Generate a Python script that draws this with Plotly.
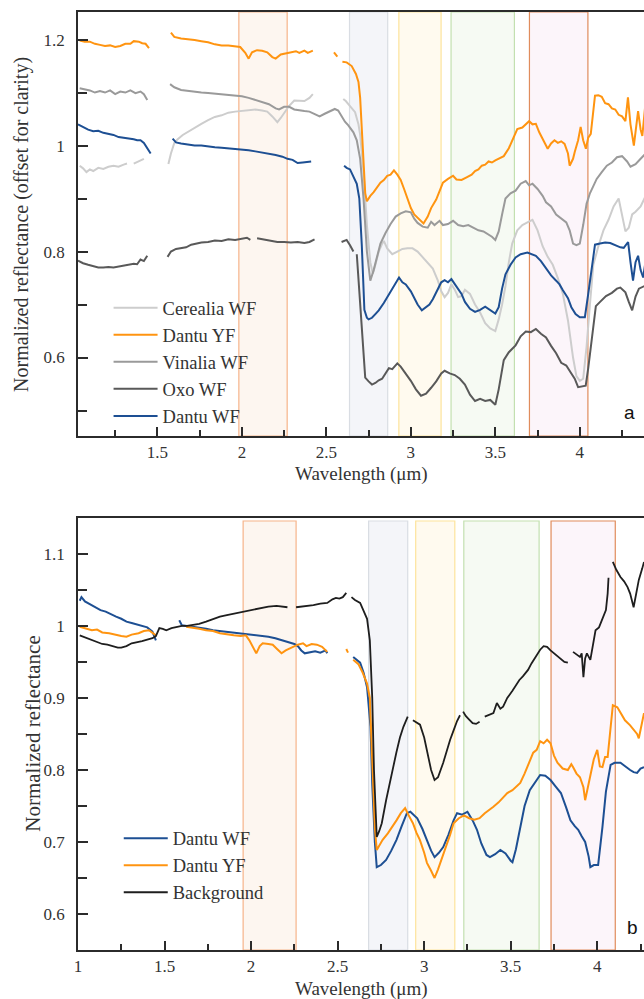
import plotly.graph_objects as go

N = None
# ---------------- Panel a (top) ----------------
cerealia_x = [1.04,1.06,1.08,1.10,1.12,1.15,1.18,1.21,1.24,1.27,1.30,1.32,N,1.36,1.39,1.42,N,
              1.565,1.58,1.60,1.62,1.65,1.68,1.72,1.76,1.80,1.84,1.88,1.92,1.96,2.00,2.04,2.08,2.12,2.15,2.18,2.21,2.23,2.25,2.28,2.31,2.34,2.37,2.40,2.42,N,
              2.60,2.615,2.63,2.65,2.67,2.69,2.70,2.72,2.74,2.76,2.775,2.79,2.81,2.83,2.84,2.86,2.89,2.92,2.95,2.98,3.01,3.04,3.07,3.10,3.13,3.16,3.18,3.20,3.22,3.24,3.26,3.28,3.30,3.32,3.35,3.38,3.41,3.44,3.47,3.50,3.52,3.54,3.56,3.58,3.60,3.63,3.66,3.69,3.72,3.75,3.78,3.81,3.84,3.87,3.90,3.93,3.96,3.98,4.00,4.02,4.04,4.06,4.08,4.11,4.14,4.17,4.20,4.23,4.25,4.27,4.29,4.31,4.33,4.36,4.39]
cerealia_y = [0.962,0.957,0.950,0.955,0.952,0.958,0.956,0.960,0.962,0.960,0.964,0.966,N,0.966,0.970,0.975,N,
              0.965,0.985,1.005,1.012,1.020,1.026,1.034,1.041,1.048,1.054,1.057,1.062,1.064,1.065,1.066,1.068,1.066,1.064,1.055,1.044,1.052,1.062,1.075,1.085,1.084,1.084,1.090,1.097,N,
              1.088,1.084,1.078,1.070,1.063,1.040,1.020,0.950,0.850,0.780,0.758,0.775,0.800,0.815,0.820,0.806,0.795,0.800,0.805,0.806,0.806,0.800,0.790,0.780,0.768,0.745,0.725,0.714,0.722,0.738,0.728,0.714,0.716,0.728,0.720,0.700,0.685,0.665,0.655,0.650,0.672,0.700,0.735,0.780,0.815,0.840,0.850,0.855,0.860,0.840,0.810,0.790,0.775,0.750,0.720,0.670,0.600,0.565,0.556,0.560,0.620,0.700,0.775,0.810,0.840,0.860,0.885,0.900,0.870,0.838,0.845,0.870,0.875,0.885,0.905]

dantu_yf_x = [1.04,1.07,1.10,1.13,1.16,1.19,1.22,1.25,1.28,1.31,1.34,1.36,1.39,1.41,1.43,1.45,N,
              1.58,1.60,1.64,1.68,1.72,1.76,1.80,1.84,1.88,1.92,1.96,1.99,2.02,2.04,2.06,2.09,2.12,2.15,2.18,2.20,2.23,2.26,2.29,2.32,2.34,2.37,2.39,2.42,N,
              2.545,2.565,N,
              2.595,2.62,2.65,2.675,2.69,2.70,2.71,2.72,2.73,2.74,2.76,2.78,2.80,2.82,2.84,2.86,2.88,2.90,2.92,2.94,2.96,2.98,3.00,3.02,3.05,3.075,3.10,3.12,3.15,3.17,3.19,3.22,3.25,3.27,3.30,3.33,3.36,3.38,3.40,3.42,3.44,3.46,3.48,3.50,3.52,3.55,3.58,3.61,3.63,3.66,3.68,3.70,3.72,3.74,3.76,3.78,3.80,3.81,3.83,3.85,3.87,3.89,3.91,3.93,3.94,3.96,3.97,3.99,4.005,4.02,4.036,4.05,4.065,4.08,4.09,4.11,4.13,4.15,4.17,4.19,4.21,4.23,4.25,4.27,4.285,4.30,4.32,4.345,4.36,4.37,4.39]
dantu_yf_y = [1.198,1.196,1.196,1.192,1.190,1.188,1.189,1.186,1.188,1.192,1.192,1.197,1.196,1.193,1.192,1.184,N,
              1.213,1.205,1.202,1.201,1.199,1.197,1.195,1.191,1.189,1.189,1.188,1.186,1.175,1.164,1.176,1.180,1.179,1.176,1.167,1.164,1.172,1.174,1.176,1.178,1.175,1.179,1.175,1.179,N,
              1.176,1.168,N,
              1.158,1.157,1.150,1.135,1.120,1.090,1.030,0.960,0.910,0.895,0.905,0.912,0.920,0.930,0.935,0.943,0.945,0.953,0.945,0.935,0.918,0.900,0.882,0.870,0.860,0.853,0.866,0.882,0.898,0.915,0.930,0.937,0.943,0.936,0.935,0.940,0.945,0.952,0.955,0.962,0.964,0.970,0.968,0.972,0.975,0.980,0.995,1.015,1.031,1.034,1.040,1.046,1.040,1.041,1.025,1.013,1.000,0.994,1.004,1.010,1.005,1.008,1.003,0.985,0.962,0.975,0.988,1.010,1.035,1.010,0.994,1.015,1.022,1.060,1.094,1.095,1.092,1.080,1.078,1.070,1.068,1.058,1.055,1.046,1.091,1.040,1.000,1.065,1.030,1.018,1.084]

vinalia_x = [1.04,1.07,1.10,1.13,1.16,1.19,1.22,1.25,1.28,1.31,1.34,1.37,1.40,1.42,1.44,N,
             1.575,1.60,1.64,1.68,1.72,1.76,1.80,1.84,1.88,1.92,1.96,2.00,2.04,2.08,2.12,2.16,2.20,2.22,2.25,2.28,2.31,2.34,2.37,2.40,2.43,2.46,2.49,2.52,2.55,2.57,2.59,2.61,2.63,2.66,2.68,2.70,2.72,2.74,2.76,2.78,2.80,2.82,2.85,2.88,2.91,2.94,2.97,3.00,3.02,3.04,3.07,3.10,3.12,3.14,3.17,3.19,3.22,3.25,3.28,3.31,3.34,3.37,3.40,3.43,3.46,3.48,3.50,3.52,3.54,3.56,3.59,3.62,3.65,3.68,3.70,3.72,3.75,3.78,3.80,3.83,3.86,3.89,3.92,3.94,3.96,3.98,4.00,4.02,4.04,4.06,4.08,4.10,4.13,4.16,4.19,4.22,4.25,4.28,4.30,4.33,4.36,4.39]
vinalia_y = [1.108,1.106,1.104,1.100,1.103,1.100,1.104,1.097,1.102,1.100,1.104,1.099,1.102,1.097,1.086,N,
             1.116,1.110,1.105,1.103,1.102,1.100,1.099,1.098,1.096,1.095,1.094,1.093,1.090,1.086,1.082,1.078,1.070,1.068,1.073,1.073,1.068,1.066,1.065,1.064,1.060,1.055,1.060,1.065,1.069,1.066,1.056,1.045,1.038,1.025,1.010,0.975,0.900,0.800,0.745,0.765,0.790,0.815,0.835,0.852,0.866,0.872,0.876,0.874,0.862,0.854,0.847,0.845,0.856,0.850,0.858,0.850,0.852,0.858,0.850,0.848,0.850,0.845,0.840,0.838,0.832,0.828,0.822,0.838,0.870,0.900,0.910,0.915,0.928,0.933,0.925,0.928,0.918,0.905,0.893,0.885,0.870,0.862,0.855,0.840,0.815,0.812,0.815,0.850,0.890,0.910,0.925,0.937,0.950,0.962,0.968,0.978,0.980,0.970,0.960,0.965,0.975,0.985]

oxo_x = [1.03,1.06,1.09,1.12,1.15,1.18,1.21,1.24,1.27,1.30,1.33,1.36,1.38,1.40,1.42,1.44,N,
         1.56,1.58,1.61,1.64,1.67,1.70,1.73,1.76,1.80,1.84,1.88,1.92,1.96,2.00,2.03,2.05,N,
         2.09,2.12,2.15,2.18,2.21,2.25,2.29,2.33,2.37,2.40,2.43,N,
         2.59,2.62,2.64,2.66,N,
         2.68,2.69,2.70,2.71,2.72,2.73,2.75,2.77,2.79,2.81,2.83,2.85,2.87,2.89,2.92,2.94,2.96,2.98,3.00,3.03,3.06,3.09,3.12,3.15,3.18,3.20,3.23,3.26,3.29,3.32,3.35,3.38,3.41,3.44,3.47,3.50,3.52,3.55,3.58,3.62,3.65,3.68,3.71,3.74,3.77,3.80,3.83,3.86,3.89,3.92,3.95,3.97,3.99,4.01,4.035,4.05,4.065,4.08,4.095,4.12,4.155,4.19,4.22,4.24,4.27,4.29,4.31,4.33,4.35,4.39]
oxo_y = [0.783,0.778,0.775,0.772,0.770,0.770,0.771,0.770,0.772,0.773,0.775,0.777,0.776,0.785,0.782,0.792,N,
         0.790,0.800,0.805,0.806,0.808,0.813,0.815,0.817,0.818,0.821,0.820,0.823,0.822,0.824,0.826,0.822,N,
         0.825,0.823,0.822,0.820,0.818,0.818,0.817,0.818,0.816,0.818,0.823,N,
         0.818,0.822,0.812,0.800,N,
         0.795,0.750,0.700,0.655,0.600,0.562,0.555,0.549,0.552,0.557,0.560,0.570,0.580,0.578,0.589,0.583,0.575,0.565,0.556,0.540,0.528,0.532,0.543,0.555,0.570,0.575,0.570,0.567,0.560,0.549,0.530,0.518,0.522,0.518,0.520,0.511,0.540,0.595,0.610,0.623,0.640,0.649,0.648,0.654,0.645,0.638,0.622,0.608,0.590,0.585,0.570,0.560,0.544,0.545,0.547,0.580,0.623,0.665,0.697,0.705,0.716,0.722,0.730,0.732,0.723,0.705,0.689,0.715,0.730,0.736]

dantu_wf_x = [1.03,1.06,1.09,1.12,1.15,1.18,1.21,1.24,1.27,1.30,1.33,1.36,1.38,1.40,1.42,1.44,1.46,N,
              1.59,1.61,1.64,1.68,1.72,1.76,1.80,1.84,1.88,1.92,1.96,2.00,2.04,2.08,2.12,2.16,2.20,2.24,2.27,2.30,2.33,2.36,2.39,2.41,N,
              2.605,2.62,2.64,2.66,2.68,2.695,2.71,2.725,2.74,2.75,2.77,2.79,2.81,2.84,2.87,2.90,2.93,2.95,2.97,3.00,3.02,3.04,3.065,3.09,3.11,3.13,3.16,3.18,3.20,3.22,3.24,3.26,3.28,3.30,3.32,3.35,3.38,3.41,3.44,3.47,3.50,3.52,3.54,3.56,3.59,3.62,3.65,3.69,3.72,3.74,3.77,3.80,3.83,3.86,3.88,3.90,3.93,3.95,3.975,4.00,4.03,4.05,4.07,4.09,4.12,4.15,4.18,4.21,4.24,4.26,4.286,4.30,4.315,4.33,4.345,4.36,4.375,4.39]
dantu_wf_y = [1.040,1.035,1.030,1.027,1.028,1.024,1.022,1.020,1.016,1.015,1.014,1.012,1.010,1.010,1.005,0.995,0.985,N,
              1.013,1.006,1.004,1.002,1.000,1.000,0.998,0.997,0.996,0.995,0.994,0.993,0.991,0.989,0.987,0.985,0.982,0.979,0.975,0.973,0.967,0.968,0.970,0.970,N,
              0.962,0.958,0.955,0.942,0.928,0.900,0.810,0.690,0.675,0.672,0.675,0.682,0.689,0.703,0.719,0.735,0.751,0.742,0.738,0.725,0.712,0.700,0.689,0.695,0.700,0.710,0.728,0.742,0.746,0.742,0.748,0.738,0.728,0.720,0.705,0.692,0.686,0.690,0.696,0.690,0.683,0.695,0.730,0.757,0.775,0.789,0.795,0.798,0.795,0.792,0.782,0.768,0.755,0.745,0.738,0.727,0.712,0.695,0.682,0.676,0.676,0.720,0.770,0.813,0.815,0.817,0.816,0.812,0.808,0.807,0.818,0.780,0.745,0.780,0.792,0.765,0.751,0.783]

# ---------------- Panel b (bottom) ----------------
b_dantu_wf_x = [1.01,1.02,1.04,1.07,1.10,1.13,1.16,1.19,1.22,1.25,1.28,1.31,1.34,1.37,1.40,1.43,1.45,N,
                1.585,1.60,1.63,1.66,1.70,1.74,1.78,1.82,1.86,1.90,1.94,1.98,2.02,2.06,2.10,2.14,2.18,2.22,2.25,2.27,2.29,2.31,2.34,2.37,2.40,2.43,2.44,N,
                2.59,2.61,2.63,2.65,2.67,2.69,2.70,2.715,2.726,2.75,2.78,2.81,2.84,2.87,2.90,2.92,2.94,2.96,2.99,3.015,3.04,3.06,3.085,3.11,3.14,3.17,3.19,3.22,3.25,3.28,3.305,3.33,3.36,3.38,3.41,3.44,3.47,3.50,3.51,3.53,3.555,3.58,3.61,3.64,3.67,3.70,3.73,3.76,3.79,3.82,3.845,3.87,3.89,3.91,3.93,3.95,3.96,3.98,4.005,4.03,4.05,4.077,4.10,4.134,4.16,4.19,4.21,4.23,4.25,4.27]
b_dantu_wf_y = [1.035,1.040,1.034,1.030,1.027,1.022,1.020,1.016,1.013,1.010,1.006,1.004,1.002,1.000,0.998,0.992,0.980,N,
                1.008,1.001,1.000,0.999,0.998,0.996,0.994,0.993,0.992,0.991,0.990,0.989,0.988,0.987,0.985,0.983,0.980,0.977,0.975,0.972,0.966,0.962,0.964,0.965,0.963,0.966,0.962,N,
                0.957,0.953,0.949,0.935,0.915,0.860,0.780,0.700,0.665,0.668,0.675,0.688,0.703,0.722,0.740,0.742,0.738,0.733,0.718,0.703,0.688,0.679,0.685,0.693,0.710,0.730,0.740,0.738,0.742,0.730,0.717,0.698,0.682,0.679,0.683,0.689,0.684,0.674,0.672,0.690,0.721,0.750,0.772,0.782,0.793,0.792,0.786,0.777,0.768,0.748,0.730,0.722,0.717,0.708,0.700,0.680,0.665,0.668,0.668,0.721,0.770,0.807,0.810,0.810,0.805,0.800,0.797,0.796,0.802,0.804]

b_dantu_yf_x = [1.01,1.04,1.08,1.11,1.14,1.18,1.21,1.25,1.28,1.31,1.35,1.38,1.41,1.43,1.45,N,
                1.625,1.66,1.70,1.74,1.78,1.82,1.86,1.90,1.94,1.97,1.99,2.01,2.03,2.05,2.067,2.10,2.125,2.15,2.176,2.20,2.24,2.27,2.30,2.32,2.35,2.38,2.41,2.44,N,
                2.55,2.56,N,
                2.59,2.62,2.645,2.67,2.686,2.70,2.715,2.726,2.74,2.76,2.79,2.82,2.84,2.865,2.89,2.91,2.935,2.955,2.975,3.00,3.016,3.04,3.06,3.08,3.10,3.12,3.15,3.17,3.20,3.23,3.26,3.29,3.32,3.35,3.38,3.40,3.43,3.46,3.48,3.51,3.53,3.555,3.58,3.61,3.63,3.65,3.67,3.69,3.71,3.73,3.75,3.77,3.80,3.83,3.85,3.86,3.88,3.90,3.92,3.93,3.945,3.96,3.98,4.00,4.015,4.03,4.045,4.06,4.075,4.09,4.116,4.14,4.16,4.19,4.21,4.23,4.24,4.255,4.27]
b_dantu_yf_y = [0.999,0.997,0.994,0.995,0.991,0.990,0.988,0.986,0.985,0.988,0.990,0.993,0.994,0.990,0.987,N,
                0.999,0.998,0.996,0.994,0.993,0.990,0.988,0.987,0.986,0.987,0.980,0.970,0.962,0.972,0.976,0.975,0.974,0.968,0.962,0.966,0.971,0.974,0.976,0.972,0.975,0.974,0.971,0.964,N,
                0.968,0.963,N,
                0.953,0.947,0.935,0.920,0.900,0.820,0.720,0.689,0.695,0.703,0.712,0.722,0.730,0.740,0.747,0.737,0.726,0.713,0.703,0.685,0.671,0.660,0.650,0.662,0.675,0.689,0.710,0.726,0.733,0.737,0.733,0.731,0.733,0.740,0.745,0.749,0.755,0.762,0.768,0.772,0.776,0.782,0.795,0.812,0.824,0.828,0.840,0.837,0.842,0.837,0.820,0.810,0.802,0.800,0.808,0.804,0.795,0.790,0.776,0.758,0.775,0.790,0.815,0.828,0.805,0.804,0.818,0.818,0.860,0.890,0.887,0.877,0.869,0.862,0.856,0.850,0.844,0.860,0.879]

b_background_x = [1.01,1.04,1.08,1.11,1.14,1.17,1.20,1.23,1.25,1.28,1.31,1.34,1.37,1.40,1.43,1.45,1.47,1.49,1.51,1.54,1.57,1.60,1.63,1.66,1.70,1.74,1.78,1.82,1.86,1.90,1.95,2.00,2.05,2.10,2.147,2.18,2.21,N,
                  2.26,2.30,2.33,2.36,2.40,2.44,2.47,2.49,2.51,2.53,2.55,N,
                  2.58,2.60,2.63,2.65,2.67,2.686,2.70,2.71,2.72,2.726,2.74,2.755,2.78,2.80,2.82,2.84,2.86,2.88,2.905,N,
                  2.935,2.955,2.976,3.00,3.02,3.04,3.06,3.08,3.11,3.13,3.15,3.17,3.19,3.207,N,
                  3.225,3.24,3.26,3.28,3.30,3.32,N,
                  3.35,3.37,3.40,3.42,3.44,3.456,3.48,3.51,3.53,3.55,3.57,3.60,3.62,3.64,3.67,3.69,3.71,3.73,3.75,3.77,3.79,3.81,3.83,N,
                  3.86,3.88,3.90,3.91,3.92,3.93,3.94,3.96,3.975,3.99,4.01,4.02,4.04,4.05,4.06,4.065,N,
                  4.09,4.11,4.134,4.155,4.175,4.19,4.21,4.225,4.24,4.26,4.27]
b_background_y = [0.987,0.984,0.980,0.978,0.975,0.974,0.972,0.970,0.970,0.972,0.976,0.977,0.979,0.981,0.983,0.986,0.997,0.996,0.994,0.997,0.999,1.000,1.000,1.001,1.003,1.006,1.010,1.013,1.015,1.017,1.019,1.022,1.025,1.027,1.028,1.027,1.026,N,
                  1.026,1.027,1.028,1.029,1.031,1.032,1.037,1.039,1.038,1.040,1.046,N,
                  1.040,1.036,1.032,1.022,1.010,0.980,0.900,0.800,0.730,0.707,0.715,0.726,0.758,0.782,0.804,0.825,0.845,0.860,0.874,N,
                  0.869,0.866,0.863,0.845,0.820,0.800,0.786,0.790,0.810,0.828,0.842,0.855,0.868,0.876,N,
                  0.881,0.875,0.870,0.865,0.864,0.867,N,
                  0.874,0.876,0.879,0.893,0.885,0.888,0.900,0.910,0.918,0.925,0.930,0.939,0.948,0.956,0.967,0.972,0.971,0.966,0.962,0.958,0.953,0.950,0.949,N,
                  0.964,0.960,0.957,0.962,0.929,0.955,0.962,0.953,0.975,0.994,0.998,1.004,1.015,1.022,1.045,1.067,N,
                  1.089,1.078,1.068,1.062,1.054,1.045,1.026,1.045,1.064,1.080,1.089]

# absorption bands (wavelength ranges, µm)
bands_a = [(1.982, 2.268), (2.637, 2.863), (2.929, 3.179), (3.238, 3.613), (3.702, 4.048)]
bands_b = [(1.954, 2.260), (2.679, 2.905), (2.951, 3.177), (3.229, 3.664), (3.733, 4.104)]
band_fill = ["rgba(250,228,208,0.33)", "rgba(225,230,238,0.38)", "rgba(255,243,215,0.4)", "rgba(228,240,218,0.33)", "rgba(245,225,240,0.33)"]
band_line = ["#f6b48a", "#d9dde3", "#fde49c", "#c3e0b0", "#e08c5c"]

x_ticks = [1, 1.5, 2, 2.5, 3, 3.5, 4]
x_ticktext = ["1", "1.5", "2", "2.5", "3", "3.5", "4"]
x_minor = [1.25, 1.75, 2.25, 2.75, 3.25, 3.75, 4.25]
ya_ticks = [0.6, 0.8, 1.0, 1.2]
ya_ticktext = ["0.6", "0.8", "1", "1.2"]
ya_minor = [0.5, 0.7, 0.9, 1.1]
yb_ticks = [0.6, 0.7, 0.8, 0.9, 1.0, 1.1]
yb_ticktext = ["0.6", "0.7", "0.8", "0.9", "1", "1.1"]
yb_minor = [0.65, 0.75, 0.85, 0.95, 1.05]

ORANGE = "#ff9410"
BLUE = "#1d4f93"
SERIF = "Liberation Serif, Times New Roman, serif"
SANS = "Liberation Sans, Arial, sans-serif"

fig = go.Figure()

top_series = [
    ("Cerealia WF", cerealia_x, cerealia_y, "#cdcdcd"),
    ("Dantu YF", dantu_yf_x, dantu_yf_y, ORANGE),
    ("Vinalia WF", vinalia_x, vinalia_y, "#9a9a9a"),
    ("Oxo WF", oxo_x, oxo_y, "#595959"),
    ("Dantu WF", dantu_wf_x, dantu_wf_y, BLUE),
]
for i, (name, xs, ys, col) in enumerate(top_series):
    fig.add_trace(go.Scatter(x=xs, y=ys, mode="lines", name=name, line=dict(color=col, width=2),
                             xaxis="x", yaxis="y", legend="legend", legendgroup=f"a{i}", connectgaps=False))

bot_series = [
    ("Dantu WF", b_dantu_wf_x, b_dantu_wf_y, BLUE),
    ("Dantu YF", b_dantu_yf_x, b_dantu_yf_y, ORANGE),
    ("Background", b_background_x, b_background_y, "#1e1e1e"),
]
for i, (name, xs, ys, col) in enumerate(bot_series):
    fig.add_trace(go.Scatter(x=xs, y=ys, mode="lines", name=name, line=dict(color=col, width=2 if name != "Background" else 1.8),
                             xaxis="x2", yaxis="y2", legend="legend2", legendgroup=f"b{i}", connectgaps=False))

shapes = []
for (x0, x1), fc, lc in zip(bands_a, band_fill, band_line):
    shapes.append(dict(type="rect", xref="x", yref="y domain", x0=x0, x1=x1, y0=0, y1=1,
                       fillcolor=fc, line=dict(color=lc, width=1.2), layer="below"))
for (x0, x1), fc, lc in zip(bands_b, band_fill, band_line):
    shapes.append(dict(type="rect", xref="x2", yref="y2 domain", x0=x0, x1=x1, y0=0, y1=0.993,
                       fillcolor=fc, line=dict(color=lc, width=1.2), layer="below"))

axis_common = dict(showline=True, linecolor="#2b2b2b", linewidth=1.5, ticks="inside", tickcolor="#2b2b2b",
                   tickwidth=1.5, showgrid=False, zeroline=False,
                   tickfont=dict(family=SERIF, size=17, color="#333333"))

fig.update_layout(
    width=644, height=999,
    margin=dict(l=78, r=0, t=12, b=49),
    plot_bgcolor="white", paper_bgcolor="white",
    xaxis=dict(domain=[0, 1], anchor="y", range=[1.03, 4.38], tickvals=x_ticks[1:], ticktext=x_ticktext[1:],
               ticklen=9, mirror=True, ticklabelstandoff=0,
               minor=dict(tickvals=x_minor, ticks="inside", ticklen=6, tickcolor="#2b2b2b", tickwidth=1.5),
               **axis_common),
    yaxis=dict(domain=[0.548, 1], anchor="x", range=[0.452, 1.252], tickvals=ya_ticks, ticktext=ya_ticktext,
               ticklen=10, ticklabelstandoff=8,
               minor=dict(tickvals=ya_minor, ticks="inside", ticklen=9, tickcolor="#2b2b2b", tickwidth=1.5),
               **axis_common),
    xaxis2=dict(domain=[0, 1], anchor="y2", range=[1.0, 4.27], tickvals=x_ticks, ticktext=x_ticktext,
                ticklen=9, mirror=True, ticklabelstandoff=0,
                minor=dict(tickvals=x_minor, ticks="inside", ticklen=6, tickcolor="#2b2b2b", tickwidth=1.5),
                **axis_common),
    yaxis2=dict(domain=[0, 0.4606], anchor="x2", range=[0.55, 1.15], tickvals=yb_ticks, ticktext=yb_ticktext,
                ticklen=10, ticklabelstandoff=8,
                minor=dict(tickvals=yb_minor, ticks="inside", ticklen=9, tickcolor="#2b2b2b", tickwidth=1.5),
                **axis_common),
    shapes=shapes,
    legend=dict(x=0.054, y=0.7045, xanchor="left", yanchor="top", bgcolor="rgba(0,0,0,0)",
                font=dict(family=SERIF, size=18.5, color="#333333"), tracegroupgap=0, itemwidth=44),
    legend2=dict(x=0.072, y=0.139, xanchor="left", yanchor="top", bgcolor="rgba(0,0,0,0)",
                 font=dict(family=SERIF, size=18.5, color="#333333"), tracegroupgap=0, itemwidth=44),
    annotations=[
        dict(text="Normalized reflectance (offset for clarity)", xref="paper", yref="paper", x=-0.099,
             y=(1 + 0.548) / 2, textangle=-90, showarrow=False, xanchor="center", yanchor="middle",
             font=dict(family=SERIF, size=20, color="#333333")),
        dict(text="Normalized reflectance", xref="paper", yref="paper", x=-0.08, y=0.4606 / 2,
             textangle=-90, showarrow=False, xanchor="center", yanchor="middle",
             font=dict(family=SERIF, size=21, color="#333333")),
        dict(text="Wavelength (μm)", xref="paper", yref="paper", x=0.5, y=0.5075, showarrow=False,
             xanchor="center", yanchor="middle", font=dict(family=SERIF, size=19, color="#333333")),
        dict(text="Wavelength (μm)", xref="paper", yref="paper", x=0.5, y=-0.0415, showarrow=False,
             xanchor="center", yanchor="middle", font=dict(family=SERIF, size=19, color="#333333")),
        dict(text="a", xref="paper", yref="paper", x=0.975, y=0.5725, showarrow=False,
             xanchor="center", yanchor="middle", font=dict(family=SANS, size=19, color="#111111")),
        dict(text="b", xref="paper", yref="paper", x=0.98, y=0.0235, showarrow=False,
             xanchor="center", yanchor="middle", font=dict(family=SANS, size=19, color="#111111")),
    ],
)

fig.write_html("out.html")
